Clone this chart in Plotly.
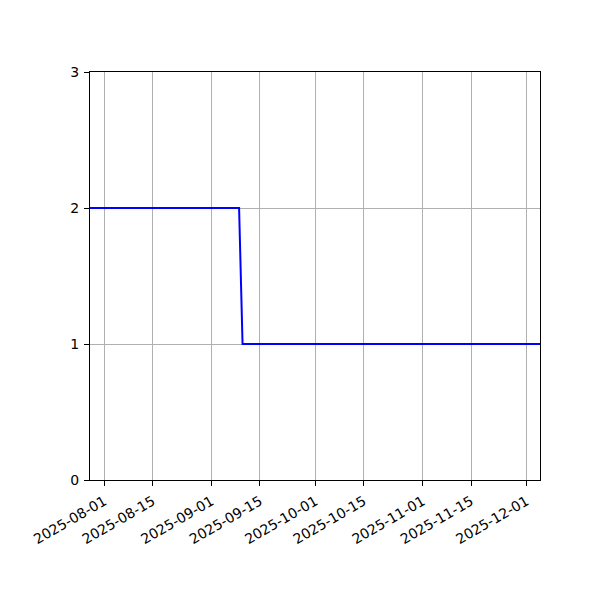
import plotly.graph_objects as go

# step series: value changes from 2 to 1 around 2025-09-09
dates = ["2025-07-27 21:00", "2025-09-08 23:00", "2025-09-09 23:00", "2025-12-04 22:00"]
counts = [2, 2, 1, 1]

x_ticks = ["2025-08-01", "2025-08-15", "2025-09-01", "2025-09-15", "2025-10-01",
           "2025-10-15", "2025-11-01", "2025-11-15", "2025-12-01"]
y_ticks = [0, 1, 2, 3]

fig = go.Figure()
fig.add_trace(go.Scatter(x=dates, y=counts, mode="lines",
                         line=dict(color="#0000ff", width=2)))

axis_style = dict(showline=True, linecolor="black", linewidth=1, mirror=True,
                  ticks="outside", ticklen=5, tickcolor="black",
                  showgrid=True, gridcolor="#b0b0b0", gridwidth=1,
                  zeroline=False, tickfont=dict(size=14, color="black"),
                  ticklabelstandoff=2)

fig.update_xaxes(type="date", range=[dates[0], dates[-1]],
                 tickvals=x_ticks, ticktext=x_ticks, tickangle=-30, **axis_style)
fig.update_yaxes(range=[0, 3], tickvals=y_ticks, **axis_style)

# page body adds ~8px offset, so margins are shifted to compensate
fig.update_layout(width=600, height=600, showlegend=False,
                  margin=dict(l=82, r=68, t=64, b=128),
                  plot_bgcolor="white", paper_bgcolor="white",
                  font=dict(family="DejaVu Sans", color="black"))

fig.write_html("out.html")
